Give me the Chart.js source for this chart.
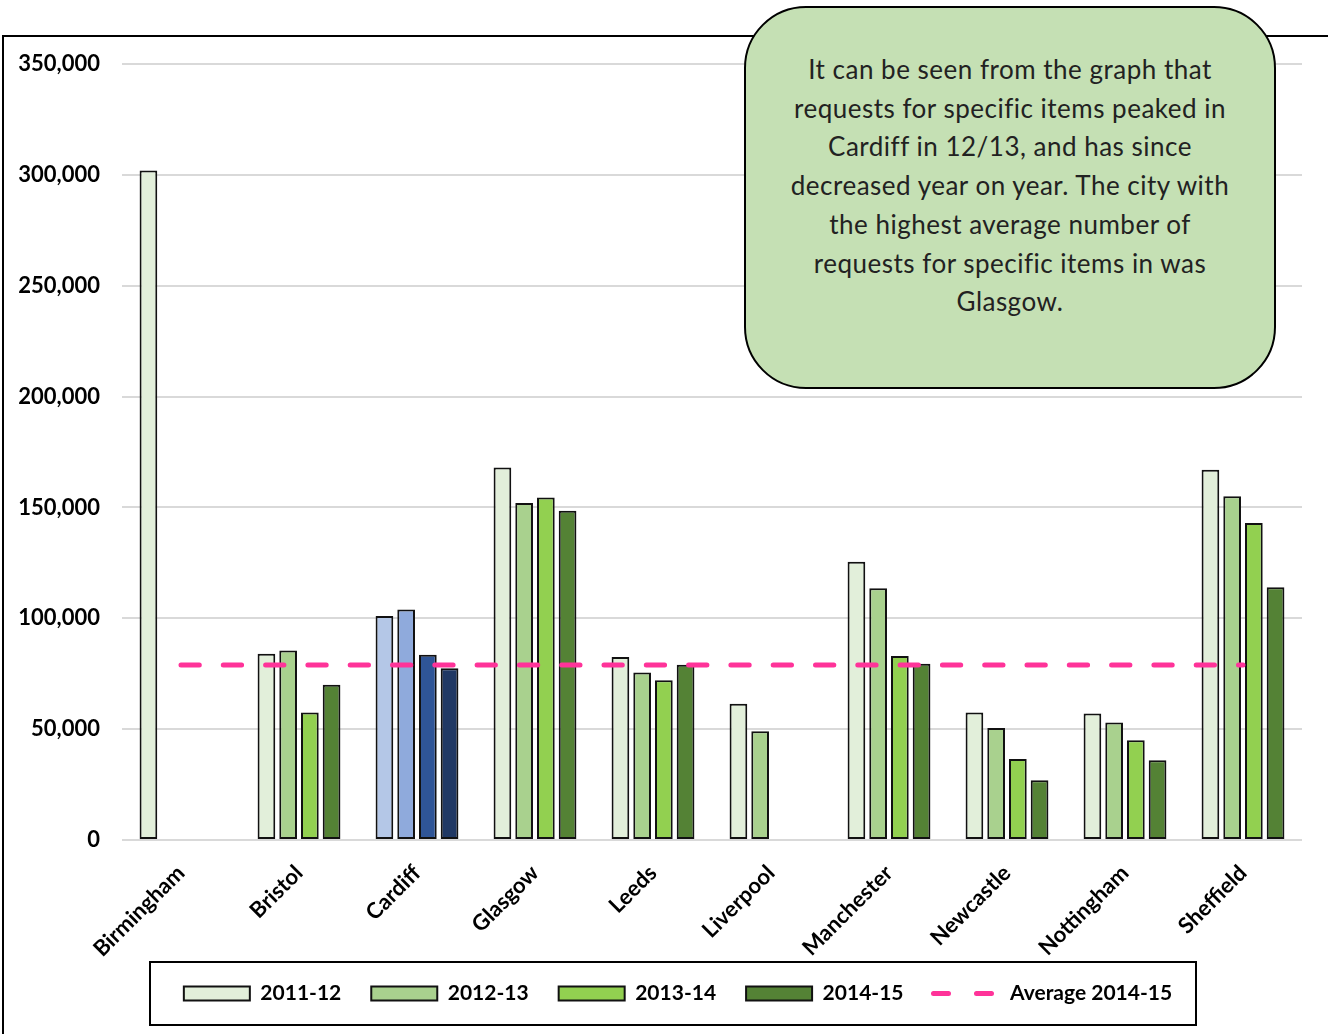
<!DOCTYPE html>
<html>
<head>
<meta charset="utf-8">
<script src="https://cdn.jsdelivr.net/npm/chart.js@4.4.1/dist/chart.umd.min.js"></script>
<style>
  html, body { margin: 0; padding: 0; background: #fff; }
  body { width: 1328px; height: 1034px; position: relative; overflow: hidden; }
  #frame { position: absolute; left: 2px; top: 35px; width: 1400px; height: 1100px; border: 2px solid #000; box-sizing: border-box; }
  #legendBox { position: absolute; left: 149px; top: 961px; width: 1048px; height: 65px; border: 2px solid #000; box-sizing: border-box; }
  #wrap { position: absolute; left: 0; top: 0; width: 1328px; height: 1034px; }
  #callout {
    position: absolute; left: 744px; top: 6px; width: 532px; height: 383px;
    box-sizing: border-box; border: 2px solid #000; border-radius: 62px;
    background: #C5E0B4; text-align: center;
    font-family: Lato, "Open Sans", sans-serif; font-size: 26px; letter-spacing: 0.5px; color: #222;
    line-height: 38.7px; padding-top: 42px; white-space: nowrap;
  }
</style>
</head>
<body>
<div id="frame"></div>
<div id="legendBox"></div>
<div id="wrap"><canvas id="c" width="1328" height="1034"></canvas></div>
<div id="callout">It can be seen from the graph that<br>requests for specific items peaked in<br>Cardiff in 12/13, and has since<br>decreased year on year. The city with<br>the highest average number of<br>requests for specific items in was<br>Glasgow.</div>
<script>
const categories = ["Birmingham", "Bristol", "Cardiff", "Glasgow", "Leeds", "Liverpool", "Manchester", "Newcastle", "Nottingham", "Sheffield"];
const seriesNames = ["2011-12", "2012-13", "2013-14", "2014-15"];
const values2011 = [302000, 84000, 101000, 168000, 82500, 61500, 125500, 57500, 57000, 167000];
const values2012 = [null, 85500, 104000, 152000, 75500, 49000, 113500, 50500, 53000, 155000];
const values2013 = [null, 57500, 83500, 154500, 72000, null, 83000, 36500, 45000, 143000];
const values2014 = [null, 70000, 77500, 148500, 79000, null, 79500, 27000, 36000, 114000];
const averageName = "Average 2014-15";
const average2014 = [78900, 78900, 78900, 78900, 78900, 78900, 78900, 78900, 78900, 78900];
const yTicks = [0, 50000, 100000, 150000, 200000, 250000, 300000, 350000];

const greenColors = ["#E2EFDA", "#A9D18E", "#92D050", "#548235"];
const blueColors = ["#B4C7E7", "#8FAADC", "#2F5597", "#203864"];
const highlightCity = "Cardiff";

const seriesValues = [values2011, values2012, values2013, values2014];
const datasets = seriesValues.map((vals, i) => ({
  type: 'bar',
  label: seriesNames[i],
  data: vals,
  backgroundColor: ctx => categories[ctx.dataIndex] === highlightCity ? blueColors[i] : greenColors[i],
  borderColor: '#111',
  borderWidth: 2,
  borderSkipped: false,
  categoryPercentage: 0.736,
  barPercentage: 0.815,
  order: 2
}));
datasets.push({
  type: 'line',
  label: averageName,
  data: average2014,
  borderColor: '#FF3399',
  backgroundColor: '#FF3399',
  borderWidth: 5,
  borderDash: [18.3, 24],
  borderCapStyle: 'round',
  pointRadius: 0,
  fill: false,
  order: 0
});

const FONT = 'Lato, "Open Sans", sans-serif';

const legendShift = {
  id: 'legendShift',
  afterLayout(chart) {
    const lg = chart.legend;
    if (!lg) return;
    lg.top -= 12; lg.bottom -= 12;
    lg.left += 19; lg.right += 19;
  }
};

new Chart(document.getElementById('c'), {
  data: { labels: categories, datasets },
  plugins: [legendShift],
  options: {
    responsive: false,
    animation: false,
    devicePixelRatio: 1,
    layout: { padding: { left: 16, top: 64, right: 26, bottom: 8 } },
    plugins: {
      tooltip: { enabled: false },
      legend: {
        position: 'bottom',
        labels: {
          usePointStyle: true,
          pointStyleWidth: 66,
          boxHeight: 14,
          padding: 30,
          color: '#000',
          font: { family: FONT, size: 21, weight: 'bold' },
          generateLabels: chart => chart.data.datasets.map((ds, i) => {
            const isLine = ds.type === 'line';
            return {
              text: ds.label,
              datasetIndex: i,
              fillStyle: isLine ? '#FF3399' : greenColors[i],
              strokeStyle: isLine ? '#FF3399' : '#111',
              lineWidth: isLine ? 5 : 2,
              lineDash: isLine ? [15, 28] : [],
              lineCap: isLine ? 'round' : 'butt',
              pointStyle: isLine ? 'line' : 'rect',
              fontColor: '#000',
              hidden: false
            };
          })
        }
      }
    },
    scales: {
      x: {
        grid: { display: false },
        border: { display: false },
        ticks: {
          autoSkip: false, maxRotation: 45, minRotation: 45, padding: 12,
          color: '#000', font: { family: FONT, size: 22, weight: 'bold' }
        },
        afterFit: s => { s.height = 125; }
      },
      y: {
        min: 0, max: 350000,
        afterBuildTicks: s => { s.ticks = yTicks.map(v => ({ value: v })); },
        grid: { color: '#D9D9D9', lineWidth: 2, drawTicks: false },
        border: { display: false },
        ticks: {
          padding: 22, color: '#000',
          font: { family: FONT, size: 22, weight: 'bold' },
          callback: v => v.toLocaleString('en-US')
        },
        afterFit: s => { s.width = 106; }
      }
    }
  }
});
</script>
</body>
</html>
